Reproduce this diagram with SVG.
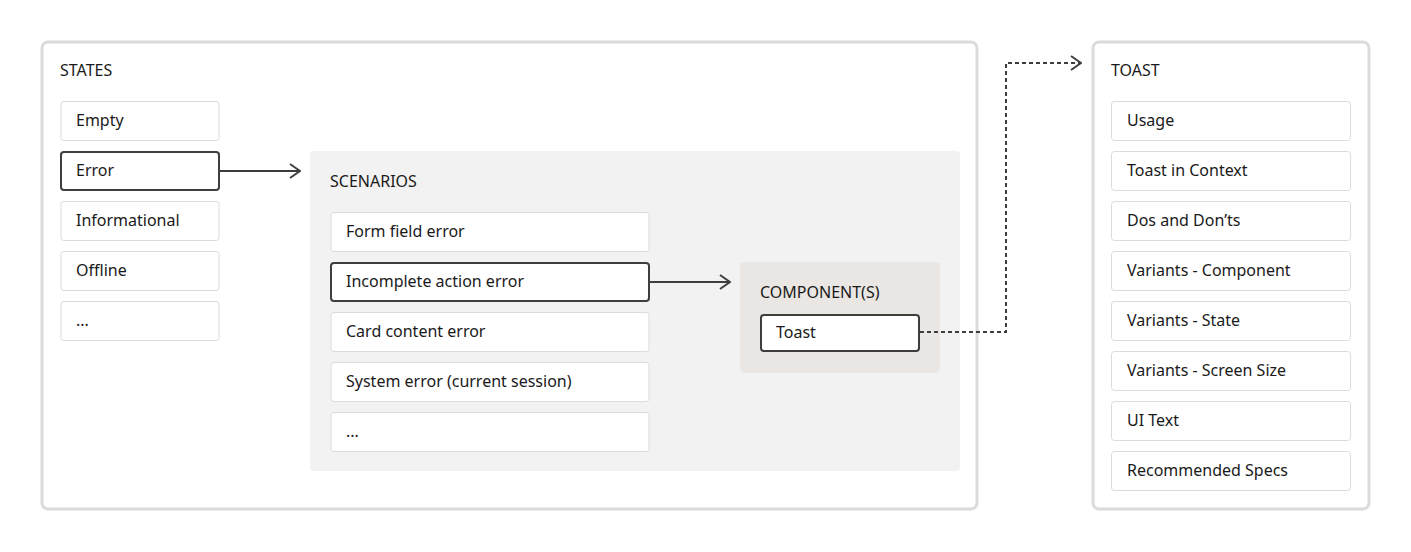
<svg xmlns="http://www.w3.org/2000/svg" width="1411" height="552" viewBox="0 0 1411 552">
<defs>
<style>
text{font-family:"Noto Sans","Open Sans",sans-serif;font-size:16px;fill:#1a1a1a}
.outer{fill:#fff;stroke:#dddbda;stroke-width:3}
.item{fill:#fff;stroke:#dddbda;stroke-width:1}
.sel{fill:#fff;stroke:#3e3e3c;stroke-width:2}
.conn{fill:none;stroke:#3e3e3c;stroke-width:2}
.dash{fill:none;stroke:#3e3e3c;stroke-width:2;stroke-dasharray:4 3}
</style>
<marker id="arr" viewBox="0 0 12 16" refX="11" refY="8" markerWidth="12" markerHeight="16" markerUnits="userSpaceOnUse" orient="auto">
<path d="M1 1 L11 8 L1 15" fill="none" stroke="#3e3e3c" stroke-width="2"/>
</marker>
</defs>
<rect width="1411" height="552" fill="#fff"/>
<g id="states">
<rect class="outer" x="42" y="42" width="935" height="467" rx="6"/>
<text x="60" y="76">STATES</text>
</g>
<g id="state-empty"><rect class="item" x="61" y="101.5" width="158" height="39" rx="3"/><text x="76" y="126">Empty</text></g>
<g id="state-error"><rect class="sel" x="61" y="152" width="158" height="38" rx="3"/><text x="76" y="176">Error</text></g>
<g id="state-informational"><rect class="item" x="61" y="201.5" width="158" height="39" rx="3"/><text x="76" y="226">Informational</text></g>
<g id="state-offline"><rect class="item" x="61" y="251.5" width="158" height="39" rx="3"/><text x="76" y="276">Offline</text></g>
<g id="state-more"><rect class="item" x="61" y="301.5" width="158" height="39" rx="3"/><text x="76" y="326">...</text></g>
<g id="scenarios">
<rect x="310" y="151" width="650" height="320" rx="4" fill="#f3f2f2"/>
<text x="330" y="187">SCENARIOS</text>
</g>
<g id="sc-form"><rect class="item" x="331" y="212.5" width="318" height="39" rx="3"/><text x="346" y="237">Form field error</text></g>
<g id="sc-incomplete"><rect class="sel" x="331" y="263" width="318" height="38" rx="3"/><text x="346" y="287">Incomplete action error</text></g>
<g id="sc-card"><rect class="item" x="331" y="312.5" width="318" height="39" rx="3"/><text x="346" y="337">Card content error</text></g>
<g id="sc-system"><rect class="item" x="331" y="362.5" width="318" height="39" rx="3"/><text x="346" y="387">System error (current session)</text></g>
<g id="sc-more"><rect class="item" x="331" y="412.5" width="318" height="39" rx="3"/><text x="346" y="437">...</text></g>
<g id="components">
<rect x="740" y="262" width="200" height="111" rx="4" fill="#e9e6e3"/>
<text x="760" y="298">COMPONENT(S)</text>
</g>
<g id="comp-toast"><rect class="sel" x="761" y="315" width="158" height="36" rx="3"/><text x="776" y="338">Toast</text></g>
<g id="toast">
<rect class="outer" x="1093" y="42" width="276" height="467" rx="6"/>
<text x="1111" y="76">TOAST</text>
</g>
<g id="t-usage"><rect class="item" x="1111.5" y="101.5" width="239" height="39" rx="3"/><text x="1127" y="126">Usage</text></g>
<g id="t-context"><rect class="item" x="1111.5" y="151.5" width="239" height="39" rx="3"/><text x="1127" y="176">Toast in Context</text></g>
<g id="t-dos"><rect class="item" x="1111.5" y="201.5" width="239" height="39" rx="3"/><text x="1127" y="226">Dos and Don’ts</text></g>
<g id="t-vcomp"><rect class="item" x="1111.5" y="251.5" width="239" height="39" rx="3"/><text x="1127" y="276">Variants - Component</text></g>
<g id="t-vstate"><rect class="item" x="1111.5" y="301.5" width="239" height="39" rx="3"/><text x="1127" y="326">Variants - State</text></g>
<g id="t-vscreen"><rect class="item" x="1111.5" y="351.5" width="239" height="39" rx="3"/><text x="1127" y="376">Variants - Screen Size</text></g>
<g id="t-uitext"><rect class="item" x="1111.5" y="401.5" width="239" height="39" rx="3"/><text x="1127" y="426">UI Text</text></g>
<g id="t-specs"><rect class="item" x="1111.5" y="451.5" width="239" height="39" rx="3"/><text x="1127" y="476">Recommended Specs</text></g>
<g id="connectors">
<path class="conn" d="M220 171 H300" marker-end="url(#arr)"/>
<path class="conn" d="M650 282 H730" marker-end="url(#arr)"/>
<path class="dash" d="M920 332 H1006 V63 H1081" marker-end="url(#arr)"/>
</g>
</svg>
